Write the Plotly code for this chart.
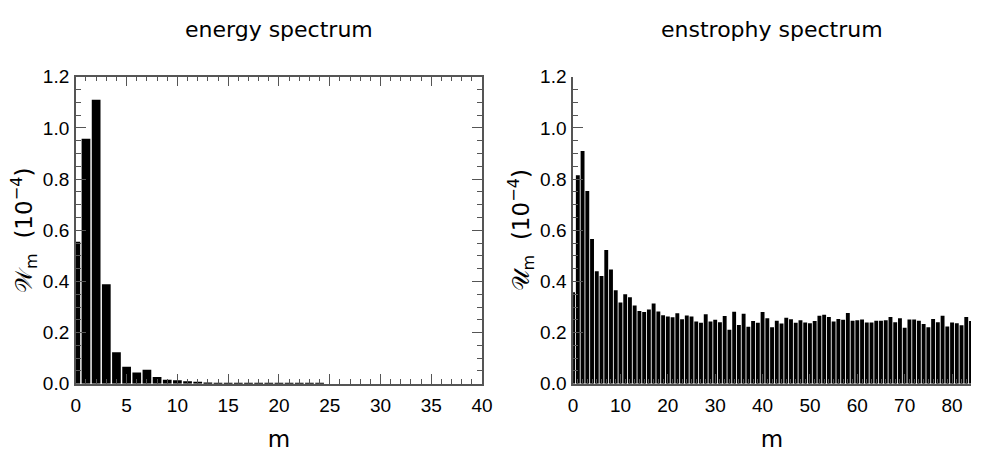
import plotly.graph_objects as go

# ---- data ----
m_energy = list(range(0, 25))
energy = [0.555, 0.958, 1.11, 0.389, 0.123, 0.067, 0.044, 0.055, 0.027, 0.016,
          0.014, 0.010, 0.008, 0.005, 0.004, 0.004, 0.004, 0.003, 0.003, 0.003,
          0.003, 0.003, 0.003, 0.002, 0.002]

m_enstrophy = list(range(0, 85))
enstrophy = [0.358, 0.815, 0.910, 0.753, 0.566, 0.440, 0.421, 0.523, 0.447, 0.366,
             0.318, 0.350, 0.338, 0.306, 0.284, 0.281, 0.290, 0.314, 0.283, 0.268,
             0.263, 0.260, 0.276, 0.252, 0.267, 0.263, 0.243, 0.239, 0.272, 0.243,
             0.250, 0.241, 0.265, 0.211, 0.282, 0.230, 0.274, 0.223, 0.245, 0.239,
             0.281, 0.256, 0.221, 0.246, 0.236, 0.258, 0.252, 0.239, 0.248, 0.240,
             0.237, 0.245, 0.266, 0.270, 0.261, 0.243, 0.253, 0.250, 0.277, 0.246,
             0.248, 0.251, 0.240, 0.240, 0.246, 0.246, 0.248, 0.261, 0.241, 0.256,
             0.219, 0.251, 0.251, 0.246, 0.234, 0.221, 0.253, 0.241, 0.266, 0.224,
             0.240, 0.237, 0.229, 0.261, 0.245]

titles = ["energy spectrum", "enstrophy spectrum"]
ytitles = ["𝒲<sub>m</sub>  (10<sup>−4</sup>)", "𝒰<sub>m</sub>  (10<sup>−4</sup>)"]

W, H = 982, 452
dom_l = [72 / W, 485 / W]
dom_r = [577.5 / W, 1.0]
dom_y = [(H - 392) / H, (H - 70) / H]

axis_col = "#555555"
tick_font = dict(family="Liberation Sans, Arial, sans-serif", size=19, color="black")
title_font = dict(family="DejaVu Sans, sans-serif", size=22, color="black")

fig = go.Figure()
fig.add_trace(go.Bar(x=m_energy, y=energy, width=0.86, marker=dict(color="black", line=dict(width=0)),
                     xaxis="x", yaxis="y", showlegend=False))
fig.add_trace(go.Bar(x=m_enstrophy, y=enstrophy, width=0.82, marker=dict(color="black", line=dict(width=0)),
                     xaxis="x2", yaxis="y2", showlegend=False))

common_x = dict(ticks="inside", ticklen=10, tickwidth=1.2, tickcolor=axis_col,
                showline=True, linecolor=axis_col, linewidth=1.5, showgrid=False, zeroline=False,
                tickfont=tick_font, ticklabelstandoff=4,
                title_font=dict(family="DejaVu Sans, sans-serif", size=23, color="black"))
common_y = dict(ticks="inside", ticklen=10, tickwidth=1.2, tickcolor=axis_col,
                showline=True, linecolor=axis_col, linewidth=1.5, showgrid=False, zeroline=False,
                range=[0, 1.2], dtick=0.2, tick0=0, tickformat=".1f", tickfont=tick_font,
                ticklabelstandoff=1,
                minor=dict(dtick=0.05, ticklen=5, ticks="inside", tickcolor=axis_col),
                title_font=dict(family="DejaVu Sans, sans-serif", size=23, color="black"),
                title_standoff=4)

fig.update_layout(
    width=W, height=H, margin=dict(l=0, r=0, t=0, b=0),
    paper_bgcolor="white", plot_bgcolor="white",
    xaxis=dict(domain=dom_l, range=[0, 40], dtick=5, tick0=0, mirror="allticks",
               minor=dict(dtick=1, ticklen=5, ticks="inside", tickcolor=axis_col),
               title_text="m", title_standoff=16, anchor="y", **common_x),
    yaxis=dict(domain=dom_y, anchor="x", mirror="allticks", title_text=ytitles[0], **common_y),
    xaxis2=dict(domain=dom_r, range=[0, 84], dtick=10, tick0=0, mirror=False,
                minor=dict(dtick=1, ticklen=5, ticks="inside", tickcolor=axis_col),
                title_text="m", title_standoff=16, anchor="y2", **common_x),
    xaxis3=dict(overlaying="x2", side="top", range=[0, 84], dtick=25, tick0=0, anchor="y2",
                showticklabels=False, ticks="inside", ticklen=10, tickwidth=1.2, tickcolor=axis_col,
                minor=dict(dtick=1, ticklen=5, ticks="inside", tickcolor=axis_col),
                showline=True, linecolor=axis_col, linewidth=1.5, showgrid=False, zeroline=False),
    yaxis2=dict(domain=dom_y, anchor="x2", mirror=False, title_text=ytitles[1], **common_y),
    yaxis4=dict(overlaying="y2", side="right", anchor="x2", range=[0, 1.2], dtick=0.2, tick0=0,
                showticklabels=False, ticks="inside", ticklen=7, tickwidth=1.2, tickcolor=axis_col,
                showline=False, showgrid=False, zeroline=False),
    annotations=[
        dict(text=titles[0], x=(dom_l[0] + dom_l[1]) / 2, y=1 - 20 / H, xref="paper", yref="paper",
             showarrow=False, font=title_font, xanchor="center", yanchor="middle"),
        dict(text=titles[1], x=(dom_r[0] + dom_r[1]) / 2, y=1 - 20 / H, xref="paper", yref="paper",
             showarrow=False, font=title_font, xanchor="center", yanchor="middle"),
    ],
)

fig.write_html("out.html")
